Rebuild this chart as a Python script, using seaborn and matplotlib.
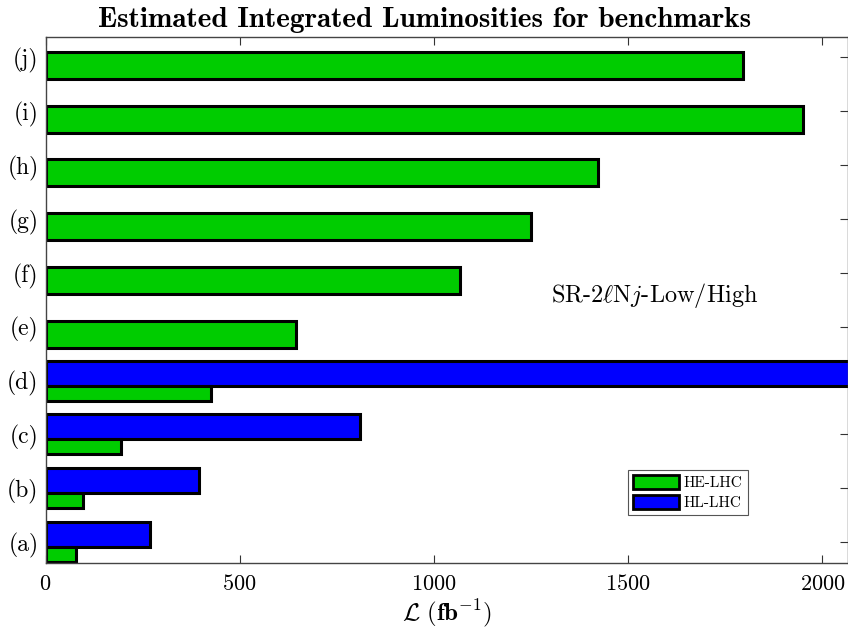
import matplotlib
matplotlib.use("Agg")
import matplotlib.pyplot as plt
import matplotlib.patches as mpatches
import numpy as np
import pandas as pd
import seaborn as sns

# ---------------- data ----------------
benchmarks = ['(a)', '(b)', '(c)', '(d)', '(e)', '(f)', '(g)', '(h)', '(i)', '(j)']
he_lhc = [79, 97, 194, 426, 644, 1067, 1251, 1422, 1950, 1795]
hl_lhc = [269, 396, 809, 2600]   # only (a)-(d) have HL-LHC values

GREEN = '#00CC00'
BLUE = '#0000FF'

# ---------------- style ----------------
sns.set_style('ticks')
plt.rcParams['font.family'] = ['cmr10', 'DejaVu Serif']
plt.rcParams['mathtext.fontset'] = 'cm'
plt.rcParams['axes.formatter.use_mathtext'] = True
plt.rcParams['axes.unicode_minus'] = False
plt.rcParams['text.color'] = 'black'
plt.rcParams['axes.labelcolor'] = 'black'
plt.rcParams['xtick.labelcolor'] = 'black'
plt.rcParams['ytick.labelcolor'] = 'black'

fig = plt.figure(figsize=(8.48, 6.3), dpi=100)
ax = fig.add_axes([0.0537, 0.1063, 0.9458, 0.835])

pos = np.arange(1, len(benchmarks) + 1)
n_hl = len(hl_lhc)

# bars for (a)-(d): HL-LHC on top, HE-LHC thinner below
df_hl = pd.DataFrame({'lum': hl_lhc, 'pos': pos[:n_hl] + 0.134})
df_he_low = pd.DataFrame({'lum': he_lhc[:n_hl], 'pos': pos[:n_hl] - 0.238})
df_he_high = pd.DataFrame({'lum': he_lhc[n_hl:], 'pos': pos[n_hl:] - 0.145})

kw = dict(orient='y', native_scale=True, errorbar=None, edgecolor='black',
          linewidth=2.2, saturation=1, ax=ax)
sns.barplot(data=df_hl, x='lum', y='pos', color=BLUE, width=0.465, **kw)
sns.barplot(data=df_he_low, x='lum', y='pos', color=GREEN, width=0.278, **kw)
sns.barplot(data=df_he_high, x='lum', y='pos', color=GREEN, width=0.50, **kw)

ax.set_xlim(0, 2065)
ax.set_ylim(0.604, 10.381)
ax.set_yticks(pos)
ax.set_yticklabels(benchmarks)
ax.set_xticks([0, 500, 1000, 1500, 2000])
ax.tick_params(axis='both', direction='in', length=6, width=0.8,
               labelsize=16, top=True, right=True, color='#333333')
ax.tick_params(axis='y', labelsize=17, pad=5)
ax.tick_params(axis='x', pad=8)
for s in ax.spines.values():
    s.set_linewidth(1.0)
    s.set_color('#444444')

ax.set_title('Estimated Integrated Luminosities for benchmarks',
             fontsize=21, fontfamily='cmb10', pad=7, x=0.472)
ax.set_xlabel(r'$\mathcal{L}\ (\mathbf{fb}^{-1})$', fontsize=18, labelpad=2)
ax.set_ylabel('')

ax.text(1569, 5.585, r'SR-2$\ell$N$j$-Low/High', fontsize=17.5,
        ha='center', va='center')

handles = [mpatches.Patch(facecolor=GREEN, edgecolor='black', linewidth=2, label='HE-LHC'),
           mpatches.Patch(facecolor=BLUE, edgecolor='black', linewidth=2, label='HL-LHC')]
leg = ax.legend(handles=handles, loc='upper left', bbox_to_anchor=(0.726, 0.177),
                fontsize=11, fancybox=False, framealpha=1, edgecolor='#555555',
                handlelength=3.0, handleheight=1.0, borderpad=0.35,
                labelspacing=0.3, handletextpad=0.3, borderaxespad=0)
leg.get_frame().set_linewidth(0.8)

fig.savefig('out.png', dpi=100)
